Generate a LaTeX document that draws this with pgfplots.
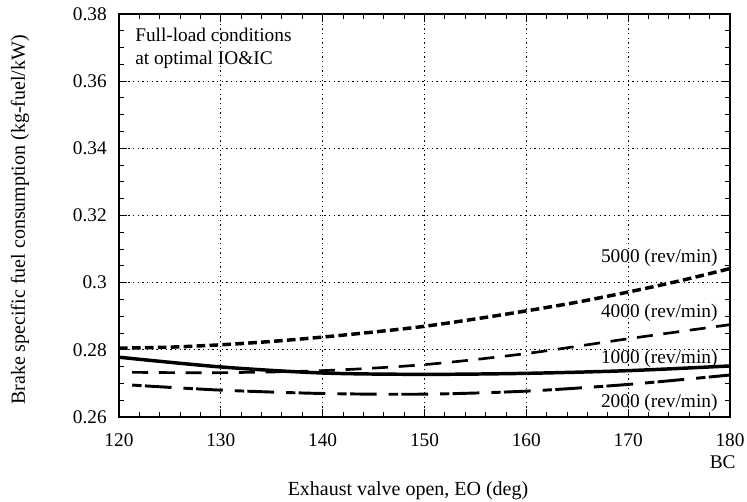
\documentclass[border=0pt]{standalone}
\usepackage{fontspec}
\setmainfont{Liberation Serif}
\usepackage{pgfplots}
\pgfplotsset{compat=1.18}

% brake specific fuel consumption vs. exhaust valve opening
\pgfplotstableread{
x      y
120    0.2805
125    0.2808
130    0.2815
135    0.2825
140    0.2838
145    0.2853
150    0.2870
155    0.2892
160    0.2916
165    0.2942
170    0.2972
175    0.3005
180    0.3042
}\rpmfivethousand

\pgfplotstableread{
x      y
121.3  0.2733
130    0.2732
140    0.2738
150    0.2756
160    0.2789
170    0.2833
180    0.2875
}\rpmfourthousand

\pgfplotstableread{
x      y
120    0.2778
130    0.2749
140    0.2731
150    0.2727
160    0.2730
170    0.2738
180    0.2752
}\rpmonethousand

\pgfplotstableread{
x      y
121.3  0.2695
130    0.2680
140    0.2670
150    0.2668
160    0.2677
170    0.2697
180    0.2725
}\rpmtwothousand

\begin{document}
\begin{tikzpicture}
\begin{axis}[
  scale only axis,
  width=458.25pt, height=302.25pt,
  xmin=120, xmax=180, ymin=0.26, ymax=0.38,
  xtick={120,130,...,180},
  ytick={0.26,0.28,...,0.38},
  minor x tick num=4,
  minor y tick num=3,
  tick align=inside,
  major tick length=6pt,
  minor tick length=3.5pt,
  every tick/.style={black, line width=0.7pt},
  axis line style={line width=1pt},
  grid=major,
  major grid style={black, line width=0.6pt, dash pattern=on 0.9pt off 2.6pt},
  font=\fontsize{14.5}{17}\selectfont,
  /pgf/number format/assume math mode=true,
  /pgf/number format/fixed,
  /pgf/number format/precision=2,
  yticklabel style={anchor=east, inner sep=0pt, xshift=-9pt},
  xticklabel style={anchor=base, inner sep=0pt, yshift=-22pt},
  xlabel={Exhaust valve open, EO (deg)},
  xlabel style={at={(rel axis cs:0.473,0)}, anchor=center, yshift=-55pt,
    font=\fontsize{15}{18}\selectfont},
  ylabel={Brake specific fuel consumption (kg-fuel/kW)},
  ylabel style={at={(rel axis cs:-0.162,0.489)}, anchor=center,
    font=\fontsize{15}{18}\selectfont},
  clip=false,
]
\addplot[black, line width=2.6pt, dash pattern=on 6.5pt off 3.2pt, smooth] table {\rpmfivethousand};
\addplot[black, line width=2pt, dash pattern=on 12pt off 8pt, smooth] table {\rpmfourthousand};
\addplot[black, line width=2.6pt, smooth] table {\rpmonethousand};
\addplot[black, line width=2.2pt, dash pattern=on 7pt off 2.5pt on 20pt off 9pt, smooth] table {\rpmtwothousand};

\node[anchor=base east, inner sep=0pt] at (axis cs:178.8,0.3060) {5000 (rev/min)};
\node[anchor=base east, inner sep=0pt] at (axis cs:178.8,0.2897) {4000 (rev/min)};
\node[anchor=base east, inner sep=0pt] at (axis cs:178.8,0.2760) {1000 (rev/min)};
\node[anchor=base east, inner sep=0pt] at (axis cs:178.8,0.2627) {2000 (rev/min)};

\node[anchor=base west, inner sep=0pt] at (axis cs:121.57,0.3719) {Full-load conditions};
\node[anchor=base west, inner sep=0pt] at (axis cs:121.57,0.3650) {at optimal IO\&IC};

\node[anchor=center, inner sep=0pt] at (rel axis cs:0.988,-0.112) {BC};
\end{axis}
\pgfresetboundingbox
\useasboundingbox (current axis.south west) ++(-89.25pt,-63.75pt) rectangle ++(560.25pt,376.5pt);
\end{tikzpicture}
\end{document}
